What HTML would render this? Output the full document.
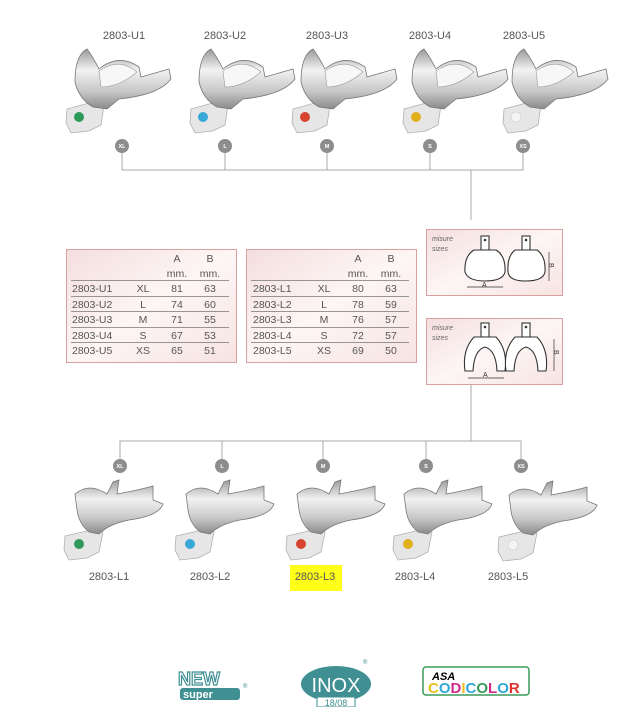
<!DOCTYPE html>
<html><head><meta charset="utf-8"><style>
html,body{margin:0;padding:0;background:#fff;}
svg{display:block;}
text{font-family:"Liberation Sans",sans-serif;}
</style></head><body>
<svg width="639" height="707" viewBox="0 0 639 707" xmlns="http://www.w3.org/2000/svg">
<defs>
<linearGradient id="box" x1="0" y1="0" x2="1" y2="1">
<stop offset="0" stop-color="#f4dede"/><stop offset="0.5" stop-color="#fdf6f5"/><stop offset="1" stop-color="#f6e3e1"/></linearGradient>
<linearGradient id="met" x1="0" y1="0" x2="0" y2="1">
<stop offset="0" stop-color="#9a9a9a"/><stop offset="0.35" stop-color="#f2f2f2"/><stop offset="0.7" stop-color="#c8c8c8"/><stop offset="1" stop-color="#8a8a8a"/></linearGradient>
<g id="up">
<path d="M-12,-8 L10,-14 L25,-12 L22,8 L10,14 L-8,16 L-13,6 Z" fill="#e6e6e6" stroke="#b0b0b0" stroke-width="0.8"/>
<path d="M-4,-35 Q-4,-62 8,-68 Q14,-60 20,-48 Q40,-64 60,-50 L62,-40 L90,-48 L92,-38 Q80,-22 40,-18 L28,-8 L14,-10 Q0,-18 -4,-35 Z" fill="url(#met)" stroke="#777" stroke-width="0.8"/>
<path d="M20,-46 Q40,-60 58,-45 Q40,-30 22,-30 Z" fill="#f7f7f7" stroke="#999" stroke-width="0.6"/>
</g>
<g id="lo">
<path d="M-14,-8 L12,-14 L24,-12 L20,8 L8,14 L-10,16 L-15,6 Z" fill="#e6e6e6" stroke="#b0b0b0" stroke-width="0.8"/>
<path d="M-4,-50 Q10,-62 28,-50 L34,-62 L40,-64 L38,-50 Q60,-54 74,-58 L74,-44 L84,-40 Q80,-28 50,-24 Q30,-20 20,-10 L10,-12 Q0,-20 -2,-34 Z" fill="url(#met)" stroke="#777" stroke-width="0.8"/>
</g>
</defs>

<!-- top labels -->
<g font-size="11" fill="#555" text-anchor="middle">
<text x="124" y="39">2803-U1</text><text x="225" y="39">2803-U2</text><text x="327" y="39">2803-U3</text><text x="430" y="39">2803-U4</text><text x="524" y="39">2803-U5</text>
</g>
<!-- top trays -->
<use href="#up" x="79" y="117"/><use href="#up" x="203" y="117"/><use href="#up" x="305" y="117"/><use href="#up" x="416" y="117"/><use href="#up" x="516" y="117"/>
<circle cx="79" cy="117" r="5" fill="#2e9a5a"/><circle cx="203" cy="117" r="5" fill="#38a9d6"/><circle cx="305" cy="117" r="5" fill="#d6432e"/><circle cx="416" cy="117" r="5" fill="#e0b020"/><circle cx="516" cy="117" r="5" fill="#f4f4f4" stroke="#ccc" stroke-width="0.6"/>

<!-- top connectors -->
<g stroke="#aaa" stroke-width="1" fill="none">
<path d="M122,153 V170 H523 V153 M225,153 V170 M327,153 V170 M430,153 V170 M471,170 V220"/>
</g>
<g fill="#8d8d8d"><circle cx="122" cy="146" r="7"/><circle cx="225" cy="146" r="7"/><circle cx="327" cy="146" r="7"/><circle cx="430" cy="146" r="7"/><circle cx="523" cy="146" r="7"/></g>
<g fill="#fff" font-size="5.5" font-weight="bold" text-anchor="middle">
<text x="122" y="148">XL</text><text x="225" y="148">L</text><text x="327" y="148">M</text><text x="430" y="148">S</text><text x="523" y="148">XS</text></g>

<!-- tables -->
<rect x="66.5" y="249.5" width="170" height="113" fill="url(#box)" stroke="#d9a0a0"/>
<rect x="246.5" y="249.5" width="170" height="113" fill="url(#box)" stroke="#d9a0a0"/>
<g stroke="#777" stroke-width="0.8">
<path d="M71,280.5 H229 M71,296.5 H229 M71,311.5 H229 M71,327.5 H229 M71,342.5 H229"/>
<path d="M251,280.5 H409 M251,296.5 H409 M251,311.5 H409 M251,327.5 H409 M251,342.5 H409"/>
</g>
<g font-size="10.5" fill="#555">
<g text-anchor="middle">
<text x="177" y="262">A</text><text x="210" y="262">B</text><text x="177" y="277">mm.</text><text x="210" y="277">mm.</text>
<text x="358" y="262">A</text><text x="391" y="262">B</text><text x="358" y="277">mm.</text><text x="391" y="277">mm.</text>
<text x="143" y="292">XL</text><text x="177" y="292">81</text><text x="210" y="292">63</text>
<text x="143" y="308">L</text><text x="177" y="308">74</text><text x="210" y="308">60</text>
<text x="143" y="323">M</text><text x="177" y="323">71</text><text x="210" y="323">55</text>
<text x="143" y="339">S</text><text x="177" y="339">67</text><text x="210" y="339">53</text>
<text x="143" y="354">XS</text><text x="177" y="354">65</text><text x="210" y="354">51</text>
<text x="324" y="292">XL</text><text x="358" y="292">80</text><text x="391" y="292">63</text>
<text x="324" y="308">L</text><text x="358" y="308">78</text><text x="391" y="308">59</text>
<text x="324" y="323">M</text><text x="358" y="323">76</text><text x="391" y="323">57</text>
<text x="324" y="339">S</text><text x="358" y="339">72</text><text x="391" y="339">57</text>
<text x="324" y="354">XS</text><text x="358" y="354">69</text><text x="391" y="354">50</text>
</g>
<text x="72" y="292">2803-U1</text><text x="72" y="308">2803-U2</text><text x="72" y="323">2803-U3</text><text x="72" y="339">2803-U4</text><text x="72" y="354">2803-U5</text>
<text x="253" y="292">2803-L1</text><text x="253" y="308">2803-L2</text><text x="253" y="323">2803-L3</text><text x="253" y="339">2803-L4</text><text x="253" y="354">2803-L5</text>
</g>

<!-- diagram boxes -->
<rect x="426.5" y="229.5" width="136" height="66" fill="url(#box)" stroke="#d9a0a0"/>
<rect x="426.5" y="318.5" width="136" height="66" fill="url(#box)" stroke="#d9a0a0"/>
<g font-size="7" fill="#666" font-style="italic"><text x="432" y="241">misure</text><text x="432" y="251">sizes</text><text x="432" y="330">misure</text><text x="432" y="340">sizes</text></g>
<g fill="#fff" stroke="#333" stroke-width="1.1">
<rect x="481" y="236" width="8" height="14"/><path d="M474,250 H496 Q506,256 505,272 Q503,281 485,281 Q468,281 465,272 Q464,256 474,250 Z"/>
<rect x="522" y="236" width="8" height="14"/><path d="M515,250 H537 Q546,256 545,272 Q543,281 526,281 Q509,281 508,272 Q507,256 515,250 Z"/>
<rect x="481" y="323" width="8" height="14"/><path d="M474,337 H496 Q508,350 505,371 L497,371 Q496,350 485,347 Q474,350 473,371 L465,371 Q462,350 474,337 Z"/>
<rect x="522" y="323" width="8" height="14"/><path d="M515,337 H537 Q549,350 546,371 L538,371 Q537,350 526,347 Q515,350 514,371 L506,371 Q503,350 515,337 Z"/>
</g>
<g fill="#333"><circle cx="485" cy="240" r="1.3"/><circle cx="526" cy="240" r="1.3"/><circle cx="485" cy="327" r="1.3"/><circle cx="526" cy="327" r="1.3"/></g>
<g stroke="#333" stroke-width="0.7" fill="none">
<path d="M467,287 H503 M549,252 V281 M468,378 H504 M554,339 V371"/>
</g>
<g font-size="7" fill="#333"><text x="482" y="287">A</text><text x="483" y="377">A</text><text x="546" y="266" transform="rotate(90 549 266)">B</text><text x="551" y="353" transform="rotate(90 554 353)">B</text></g>

<!-- bottom connectors -->
<g stroke="#aaa" stroke-width="1" fill="none">
<path d="M471,384 V441 M120,459 V441 H521 V459 M222,441 V459 M323,441 V459 M426,441 V459"/>
</g>
<g fill="#8d8d8d"><circle cx="120" cy="466" r="7"/><circle cx="222" cy="466" r="7"/><circle cx="323" cy="466" r="7"/><circle cx="426" cy="466" r="7"/><circle cx="521" cy="466" r="7"/></g>
<g fill="#fff" font-size="5.5" font-weight="bold" text-anchor="middle">
<text x="120" y="468">XL</text><text x="222" y="468">L</text><text x="323" y="468">M</text><text x="426" y="468">S</text><text x="521" y="468">XS</text></g>

<!-- bottom trays -->
<use href="#lo" x="79" y="544"/><use href="#lo" x="190" y="544"/><use href="#lo" x="301" y="544"/><use href="#lo" x="408" y="544"/><use href="#lo" x="513" y="545"/>
<circle cx="79" cy="544" r="5" fill="#2e9a5a"/><circle cx="190" cy="544" r="5" fill="#38a9d6"/><circle cx="301" cy="544" r="5" fill="#d6432e"/><circle cx="408" cy="544" r="5" fill="#e0b020"/><circle cx="513" cy="545" r="5" fill="#f4f4f4" stroke="#ccc" stroke-width="0.6"/>

<rect x="290" y="565" width="52" height="26" fill="#ffff1a"/>
<g font-size="11" fill="#555" text-anchor="middle">
<text x="109" y="580">2803-L1</text><text x="210" y="580">2803-L2</text><text x="315" y="580">2803-L3</text><text x="415" y="580">2803-L4</text><text x="508" y="580">2803-L5</text>
</g>

<!-- logos -->
<text x="178" y="685" font-size="18" font-weight="bold" fill="#fff" stroke="#3f8f93" stroke-width="1.2" font-family="Liberation Serif,serif">NEW</text>
<rect x="180" y="688" width="60" height="12" rx="3" fill="#3f8f93"/>
<text x="183" y="698" font-size="11" font-weight="bold" fill="#fff">super</text>
<text x="243" y="688" font-size="6" fill="#3f8f93">®</text>
<ellipse cx="336" cy="684" rx="35" ry="18" fill="#3f8f93"/>
<text x="336" y="692" font-size="20" fill="#fff" text-anchor="middle" font-family="Liberation Mono,monospace">INOX</text>
<rect x="317" y="697" width="38" height="10" fill="#fff" stroke="#3f8f93"/>
<text x="336" y="706" font-size="9" fill="#3f8f93" text-anchor="middle">18/08</text>
<text x="363" y="664" font-size="6" fill="#3f8f93">®</text>
<rect x="423" y="667" width="106" height="28" rx="3" fill="#fff" stroke="#3a9a5a" stroke-width="1.5"/>
<text x="432" y="680" font-size="11" font-style="italic" font-weight="bold" fill="#000">ASA</text>
<text x="428" y="693" font-size="15" font-weight="bold"><tspan fill="#e8c020">C</tspan><tspan fill="#2fa8d8">O</tspan><tspan fill="#d02a8a">D</tspan><tspan fill="#e8c020">I</tspan><tspan fill="#2fa8d8">C</tspan><tspan fill="#3a9a5a">O</tspan><tspan fill="#d02a8a">L</tspan><tspan fill="#2fa8d8">O</tspan><tspan fill="#e03030">R</tspan></text>
</svg>
</body></html>
